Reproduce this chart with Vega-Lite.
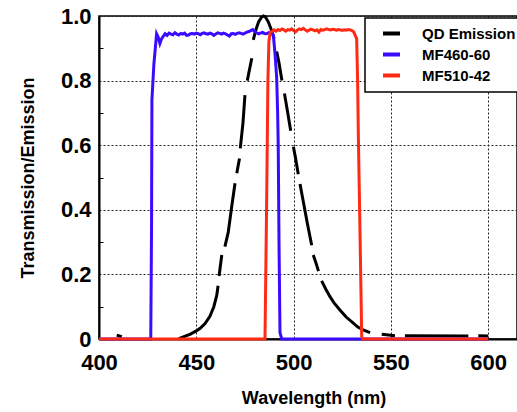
{
  "$schema": "https://vega.github.io/schema/vega-lite/v6.json",
  "autosize": {"type": "none"},
  "padding": {"left": 99, "top": 16, "right": 0, "bottom": 73},
  "width": 418,
  "height": 323,
  "background": "white",
  "config": {
    "view": {"stroke": "black", "strokeWidth": 1.5},
    "font": "Liberation Sans",
    "legend": {"strokeWidth": 1.5}
  },
  "data": {"values": [
    {"s": "QD Emission", "g": "q0", "w": 409.1, "v": 0.012},
    {"s": "QD Emission", "g": "q0", "w": 411.7, "v": 0.007},
    {"s": "QD Emission", "g": "q1", "w": 441, "v": 0.001},
    {"s": "QD Emission", "g": "q1", "w": 444, "v": 0.008},
    {"s": "QD Emission", "g": "q1", "w": 447, "v": 0.015},
    {"s": "QD Emission", "g": "q1", "w": 450, "v": 0.025},
    {"s": "QD Emission", "g": "q1", "w": 452, "v": 0.033},
    {"s": "QD Emission", "g": "q1", "w": 454.5, "v": 0.048},
    {"s": "QD Emission", "g": "q1", "w": 457, "v": 0.07},
    {"s": "QD Emission", "g": "q1", "w": 459, "v": 0.1},
    {"s": "QD Emission", "g": "q1", "w": 460.5, "v": 0.135},
    {"s": "QD Emission", "g": "q1", "w": 461.2, "v": 0.165},
    {"s": "QD Emission", "g": "q2", "w": 461.7, "v": 0.195},
    {"s": "QD Emission", "g": "q2", "w": 463.1, "v": 0.26},
    {"s": "QD Emission", "g": "q3", "w": 464.7, "v": 0.286},
    {"s": "QD Emission", "g": "q3", "w": 466.4, "v": 0.33},
    {"s": "QD Emission", "g": "q3", "w": 468.2, "v": 0.41},
    {"s": "QD Emission", "g": "q3", "w": 469.9, "v": 0.482},
    {"s": "QD Emission", "g": "q4", "w": 470.8, "v": 0.513},
    {"s": "QD Emission", "g": "q4", "w": 472.2, "v": 0.559},
    {"s": "QD Emission", "g": "q5", "w": 472.6, "v": 0.59},
    {"s": "QD Emission", "g": "q5", "w": 474, "v": 0.67},
    {"s": "QD Emission", "g": "q5", "w": 475, "v": 0.755},
    {"s": "QD Emission", "g": "q6", "w": 476.2, "v": 0.8},
    {"s": "QD Emission", "g": "q6", "w": 478.5, "v": 0.869},
    {"s": "QD Emission", "g": "q7", "w": 479.3, "v": 0.926},
    {"s": "QD Emission", "g": "q7", "w": 480.5, "v": 0.955},
    {"s": "QD Emission", "g": "q7", "w": 482, "v": 0.982},
    {"s": "QD Emission", "g": "q7", "w": 483.5, "v": 0.996},
    {"s": "QD Emission", "g": "q7", "w": 484.5, "v": 1.0},
    {"s": "QD Emission", "g": "q7", "w": 485.5, "v": 0.997},
    {"s": "QD Emission", "g": "q7", "w": 487, "v": 0.982},
    {"s": "QD Emission", "g": "q7", "w": 488.5, "v": 0.958},
    {"s": "QD Emission", "g": "q7", "w": 490, "v": 0.93},
    {"s": "QD Emission", "g": "q8", "w": 491.3, "v": 0.89},
    {"s": "QD Emission", "g": "q8", "w": 492.5, "v": 0.855},
    {"s": "QD Emission", "g": "q8", "w": 494, "v": 0.8},
    {"s": "QD Emission", "g": "q9", "w": 495.3, "v": 0.76},
    {"s": "QD Emission", "g": "q9", "w": 497, "v": 0.7},
    {"s": "QD Emission", "g": "q9", "w": 498.5, "v": 0.645},
    {"s": "QD Emission", "g": "q10", "w": 499.9, "v": 0.595},
    {"s": "QD Emission", "g": "q10", "w": 501, "v": 0.56},
    {"s": "QD Emission", "g": "q10", "w": 502.4, "v": 0.51},
    {"s": "QD Emission", "g": "q11", "w": 503.3, "v": 0.48},
    {"s": "QD Emission", "g": "q11", "w": 505, "v": 0.425},
    {"s": "QD Emission", "g": "q11", "w": 507, "v": 0.36},
    {"s": "QD Emission", "g": "q11", "w": 509.3, "v": 0.29},
    {"s": "QD Emission", "g": "q12", "w": 510.1, "v": 0.26},
    {"s": "QD Emission", "g": "q12", "w": 511.5, "v": 0.235},
    {"s": "QD Emission", "g": "q12", "w": 512.8, "v": 0.21},
    {"s": "QD Emission", "g": "q13", "w": 514.4, "v": 0.18},
    {"s": "QD Emission", "g": "q13", "w": 516.5, "v": 0.155},
    {"s": "QD Emission", "g": "q13", "w": 518.7, "v": 0.131},
    {"s": "QD Emission", "g": "q13", "w": 521, "v": 0.11},
    {"s": "QD Emission", "g": "q13", "w": 523.8, "v": 0.09},
    {"s": "QD Emission", "g": "q13", "w": 527, "v": 0.068},
    {"s": "QD Emission", "g": "q13", "w": 530.7, "v": 0.049},
    {"s": "QD Emission", "g": "q13", "w": 533, "v": 0.037},
    {"s": "QD Emission", "g": "q13", "w": 535.8, "v": 0.028},
    {"s": "QD Emission", "g": "q13", "w": 539.3, "v": 0.02},
    {"s": "QD Emission", "g": "q14", "w": 545.3, "v": 0.015},
    {"s": "QD Emission", "g": "q14", "w": 552.1, "v": 0.01},
    {"s": "QD Emission", "g": "q15", "w": 557.2, "v": 0.01},
    {"s": "QD Emission", "g": "q15", "w": 589.8, "v": 0.009},
    {"s": "QD Emission", "g": "q16", "w": 594.9, "v": 0.01},
    {"s": "QD Emission", "g": "q16", "w": 600, "v": 0.009},

    {"s": "MF460-60", "g": "b", "w": 400, "v": 0},
    {"s": "MF460-60", "g": "b", "w": 426.6, "v": 0},
    {"s": "MF460-60", "g": "b", "w": 427.0, "v": 0.35},
    {"s": "MF460-60", "g": "b", "w": 427.2, "v": 0.74},
    {"s": "MF460-60", "g": "b", "w": 428.2, "v": 0.85},
    {"s": "MF460-60", "g": "b", "w": 429.6, "v": 0.945},
    {"s": "MF460-60", "g": "b", "w": 430.4, "v": 0.935},
    {"s": "MF460-60", "g": "b", "w": 431.3, "v": 0.915},
    {"s": "MF460-60", "g": "b", "w": 432.2, "v": 0.93},
    {"s": "MF460-60", "g": "b", "w": 433, "v": 0.937},
    {"s": "MF460-60", "g": "b", "w": 434, "v": 0.945},
    {"s": "MF460-60", "g": "b", "w": 435, "v": 0.94},
    {"s": "MF460-60", "g": "b", "w": 436, "v": 0.947},
    {"s": "MF460-60", "g": "b", "w": 437, "v": 0.944},
    {"s": "MF460-60", "g": "b", "w": 438, "v": 0.942},
    {"s": "MF460-60", "g": "b", "w": 439, "v": 0.948},
    {"s": "MF460-60", "g": "b", "w": 440, "v": 0.944},
    {"s": "MF460-60", "g": "b", "w": 441, "v": 0.941},
    {"s": "MF460-60", "g": "b", "w": 442, "v": 0.946},
    {"s": "MF460-60", "g": "b", "w": 443, "v": 0.944},
    {"s": "MF460-60", "g": "b", "w": 444, "v": 0.947},
    {"s": "MF460-60", "g": "b", "w": 445, "v": 0.94},
    {"s": "MF460-60", "g": "b", "w": 446, "v": 0.941},
    {"s": "MF460-60", "g": "b", "w": 447, "v": 0.945},
    {"s": "MF460-60", "g": "b", "w": 448, "v": 0.946},
    {"s": "MF460-60", "g": "b", "w": 449, "v": 0.944},
    {"s": "MF460-60", "g": "b", "w": 450, "v": 0.947},
    {"s": "MF460-60", "g": "b", "w": 451, "v": 0.945},
    {"s": "MF460-60", "g": "b", "w": 452, "v": 0.942},
    {"s": "MF460-60", "g": "b", "w": 453, "v": 0.946},
    {"s": "MF460-60", "g": "b", "w": 454, "v": 0.948},
    {"s": "MF460-60", "g": "b", "w": 455, "v": 0.945},
    {"s": "MF460-60", "g": "b", "w": 456, "v": 0.944},
    {"s": "MF460-60", "g": "b", "w": 457, "v": 0.947},
    {"s": "MF460-60", "g": "b", "w": 458, "v": 0.945},
    {"s": "MF460-60", "g": "b", "w": 459, "v": 0.94},
    {"s": "MF460-60", "g": "b", "w": 460, "v": 0.944},
    {"s": "MF460-60", "g": "b", "w": 461, "v": 0.948},
    {"s": "MF460-60", "g": "b", "w": 462, "v": 0.946},
    {"s": "MF460-60", "g": "b", "w": 463, "v": 0.944},
    {"s": "MF460-60", "g": "b", "w": 464, "v": 0.947},
    {"s": "MF460-60", "g": "b", "w": 465, "v": 0.945},
    {"s": "MF460-60", "g": "b", "w": 466, "v": 0.941},
    {"s": "MF460-60", "g": "b", "w": 467, "v": 0.938},
    {"s": "MF460-60", "g": "b", "w": 468, "v": 0.945},
    {"s": "MF460-60", "g": "b", "w": 469, "v": 0.946},
    {"s": "MF460-60", "g": "b", "w": 470, "v": 0.943},
    {"s": "MF460-60", "g": "b", "w": 471, "v": 0.946},
    {"s": "MF460-60", "g": "b", "w": 472, "v": 0.948},
    {"s": "MF460-60", "g": "b", "w": 473, "v": 0.946},
    {"s": "MF460-60", "g": "b", "w": 474, "v": 0.944},
    {"s": "MF460-60", "g": "b", "w": 475, "v": 0.947},
    {"s": "MF460-60", "g": "b", "w": 476, "v": 0.95},
    {"s": "MF460-60", "g": "b", "w": 477, "v": 0.952},
    {"s": "MF460-60", "g": "b", "w": 478, "v": 0.955},
    {"s": "MF460-60", "g": "b", "w": 479, "v": 0.958},
    {"s": "MF460-60", "g": "b", "w": 480, "v": 0.952},
    {"s": "MF460-60", "g": "b", "w": 481, "v": 0.948},
    {"s": "MF460-60", "g": "b", "w": 482, "v": 0.945},
    {"s": "MF460-60", "g": "b", "w": 483, "v": 0.947},
    {"s": "MF460-60", "g": "b", "w": 484, "v": 0.949},
    {"s": "MF460-60", "g": "b", "w": 485, "v": 0.946},
    {"s": "MF460-60", "g": "b", "w": 486, "v": 0.945},
    {"s": "MF460-60", "g": "b", "w": 487, "v": 0.948},
    {"s": "MF460-60", "g": "b", "w": 488, "v": 0.95},
    {"s": "MF460-60", "g": "b", "w": 489, "v": 0.948},
    {"s": "MF460-60", "g": "b", "w": 489.6, "v": 0.94},
    {"s": "MF460-60", "g": "b", "w": 490.5, "v": 0.88},
    {"s": "MF460-60", "g": "b", "w": 491.3, "v": 0.81},
    {"s": "MF460-60", "g": "b", "w": 491.8, "v": 0.7},
    {"s": "MF460-60", "g": "b", "w": 492.1, "v": 0.6},
    {"s": "MF460-60", "g": "b", "w": 492.5, "v": 0.3},
    {"s": "MF460-60", "g": "b", "w": 493, "v": 0.02},
    {"s": "MF460-60", "g": "b", "w": 493.9, "v": 0},
    {"s": "MF460-60", "g": "b", "w": 600, "v": 0},

    {"s": "MF510-42", "g": "r", "w": 400, "v": 0},
    {"s": "MF510-42", "g": "r", "w": 485.3, "v": 0},
    {"s": "MF510-42", "g": "r", "w": 486.2, "v": 0.45},
    {"s": "MF510-42", "g": "r", "w": 486.8, "v": 0.8},
    {"s": "MF510-42", "g": "r", "w": 487.3, "v": 0.92},
    {"s": "MF510-42", "g": "r", "w": 488, "v": 0.95},
    {"s": "MF510-42", "g": "r", "w": 489, "v": 0.952},
    {"s": "MF510-42", "g": "r", "w": 490, "v": 0.957},
    {"s": "MF510-42", "g": "r", "w": 491, "v": 0.953},
    {"s": "MF510-42", "g": "r", "w": 492, "v": 0.958},
    {"s": "MF510-42", "g": "r", "w": 493, "v": 0.955},
    {"s": "MF510-42", "g": "r", "w": 494, "v": 0.96},
    {"s": "MF510-42", "g": "r", "w": 495, "v": 0.957},
    {"s": "MF510-42", "g": "r", "w": 496, "v": 0.953},
    {"s": "MF510-42", "g": "r", "w": 497, "v": 0.958},
    {"s": "MF510-42", "g": "r", "w": 498, "v": 0.956},
    {"s": "MF510-42", "g": "r", "w": 499, "v": 0.96},
    {"s": "MF510-42", "g": "r", "w": 500, "v": 0.955},
    {"s": "MF510-42", "g": "r", "w": 501, "v": 0.951},
    {"s": "MF510-42", "g": "r", "w": 502, "v": 0.957},
    {"s": "MF510-42", "g": "r", "w": 503, "v": 0.96},
    {"s": "MF510-42", "g": "r", "w": 504, "v": 0.958},
    {"s": "MF510-42", "g": "r", "w": 505, "v": 0.962},
    {"s": "MF510-42", "g": "r", "w": 506, "v": 0.957},
    {"s": "MF510-42", "g": "r", "w": 507, "v": 0.953},
    {"s": "MF510-42", "g": "r", "w": 508, "v": 0.956},
    {"s": "MF510-42", "g": "r", "w": 509, "v": 0.959},
    {"s": "MF510-42", "g": "r", "w": 510, "v": 0.957},
    {"s": "MF510-42", "g": "r", "w": 511, "v": 0.954},
    {"s": "MF510-42", "g": "r", "w": 512, "v": 0.957},
    {"s": "MF510-42", "g": "r", "w": 513, "v": 0.95},
    {"s": "MF510-42", "g": "r", "w": 514, "v": 0.958},
    {"s": "MF510-42", "g": "r", "w": 515, "v": 0.956},
    {"s": "MF510-42", "g": "r", "w": 516, "v": 0.958},
    {"s": "MF510-42", "g": "r", "w": 517, "v": 0.96},
    {"s": "MF510-42", "g": "r", "w": 518, "v": 0.958},
    {"s": "MF510-42", "g": "r", "w": 519, "v": 0.957},
    {"s": "MF510-42", "g": "r", "w": 520, "v": 0.959},
    {"s": "MF510-42", "g": "r", "w": 521, "v": 0.958},
    {"s": "MF510-42", "g": "r", "w": 522, "v": 0.956},
    {"s": "MF510-42", "g": "r", "w": 523, "v": 0.958},
    {"s": "MF510-42", "g": "r", "w": 524, "v": 0.957},
    {"s": "MF510-42", "g": "r", "w": 525, "v": 0.955},
    {"s": "MF510-42", "g": "r", "w": 526, "v": 0.957},
    {"s": "MF510-42", "g": "r", "w": 527, "v": 0.956},
    {"s": "MF510-42", "g": "r", "w": 528, "v": 0.958},
    {"s": "MF510-42", "g": "r", "w": 529, "v": 0.957},
    {"s": "MF510-42", "g": "r", "w": 530, "v": 0.955},
    {"s": "MF510-42", "g": "r", "w": 531, "v": 0.95},
    {"s": "MF510-42", "g": "r", "w": 531.6, "v": 0.941},
    {"s": "MF510-42", "g": "r", "w": 532.4, "v": 0.93},
    {"s": "MF510-42", "g": "r", "w": 532.9, "v": 0.8},
    {"s": "MF510-42", "g": "r", "w": 533.3, "v": 0.62},
    {"s": "MF510-42", "g": "r", "w": 534.1, "v": 0.34},
    {"s": "MF510-42", "g": "r", "w": 535, "v": 0.007},
    {"s": "MF510-42", "g": "r", "w": 535.5, "v": 0},
    {"s": "MF510-42", "g": "r", "w": 600, "v": 0}
  ]},
  "encoding": {
    "x": {
      "field": "w", "type": "quantitative",
      "scale": {"domain": [400, 614.8], "nice": false, "zero": false},
      "axis": {
        "values": [400, 450, 500, 550, 600],
        "title": "Wavelength (nm)",
        "titleFont": "Liberation Sans", "titleFontSize": 18, "titleFontWeight": "bold", "titleColor": "black",
        "titlePadding": 16, "titleX": 214.5,
        "labelFont": "Liberation Sans", "labelFontSize": 22, "labelFontWeight": "bold", "labelColor": "black",
        "labelPadding": 13, "ticks": false, "labelFlush": false,
        "domainColor": "black", "domainWidth": 2,
        "grid": true, "gridColor": "#222222", "gridDash": [2, 2], "gridWidth": 1
      }
    },
    "y": {
      "field": "v", "type": "quantitative",
      "scale": {"domain": [0, 1], "nice": false},
      "axis": {
        "values": [0, 0.1, 0.2, 0.3, 0.4, 0.5, 0.6, 0.7, 0.8, 0.9, 1.0],
        "labelExpr": "round(datum.value*10) % 2 == 1 ? '' : (datum.value == 0 ? '0' : format(datum.value, '.1f'))",
        "title": "Transmission/Emission",
        "titleFont": "Liberation Sans", "titleFontSize": 18, "titleFontWeight": "bold", "titleColor": "black",
        "titlePadding": 23,
        "labelFont": "Liberation Sans", "labelFontSize": 22, "labelFontWeight": "bold", "labelColor": "black",
        "labelPadding": 8, "labelFlush": false,
        "tickColor": "black",
        "tickSize": {"condition": {"test": "round(datum.value*10) % 2 == 1", "value": -4}, "value": 0},
        "domainColor": "black", "domainWidth": 2,
        "grid": true, "gridColor": "#222222", "gridDash": [2, 2], "gridWidth": 1,
        "gridOpacity": {"condition": {"test": "round(datum.value*10) % 2 == 1", "value": 0}, "value": 1}
      }
    },
    "color": {
      "field": "s", "type": "nominal",
      "scale": {"domain": ["QD Emission", "MF460-60", "MF510-42"], "range": ["#000000", "#3a0bff", "#ff2a14"]},
      "legend": {
        "title": null, "orient": "none", "legendX": 266, "legendY": 2,
        "fillColor": "white", "strokeColor": "black", "padding": 8,
        "symbolType": "M-1.7,0H1.7", "symbolSize": 100, "symbolStrokeWidth": 4, "symbolOffset": 11,
        "labelFont": "Liberation Sans", "labelFontSize": 15, "labelFontWeight": "bold", "labelColor": "black",
        "labelOffset": 23, "rowPadding": 4
      }
    },
    "detail": {"field": "g", "type": "nominal"}
  },
  "layer": [
    {"transform": [{"filter": "datum.s == 'QD Emission'"}], "mark": {"type": "line", "strokeWidth": 3}},
    {"transform": [{"filter": "datum.s == 'MF460-60'"}], "mark": {"type": "line", "strokeWidth": 3}},
    {"transform": [{"filter": "datum.s == 'MF510-42'"}], "mark": {"type": "line", "strokeWidth": 3}}
  ]
}
